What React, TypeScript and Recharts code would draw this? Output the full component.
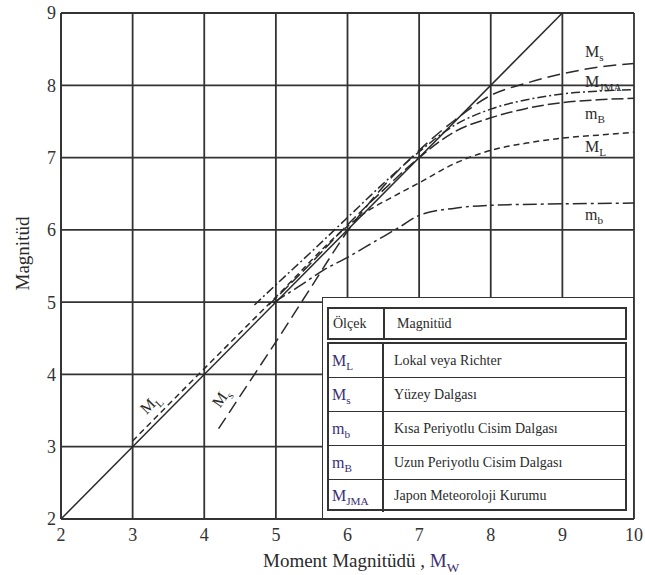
import React from 'react';
import { LineChart, Line, XAxis, YAxis, CartesianGrid } from 'recharts';

// values
const xTicks = [2, 3, 4, 5, 6, 7, 8, 9, 10];
const yTicks = [2, 3, 4, 5, 6, 7, 8, 9];

const mwX = [2, 9];
const mwY = [2, 9];

const msX = [4.2, 4.6, 5, 5.5, 6, 6.5, 7, 7.5, 8, 8.5, 9, 9.5, 10];
const msY = [3.25, 3.85, 4.45, 5.22, 5.98, 6.6, 7.1, 7.52, 7.86, 8.03, 8.16, 8.25, 8.3];

const jmaX = [4.7, 5, 5.5, 6, 6.5, 7, 7.5, 8, 8.5, 9, 9.5, 10];
const jmaY = [4.96, 5.24, 5.7, 6.17, 6.64, 7.08, 7.45, 7.67, 7.8, 7.88, 7.92, 7.94];

const mBX = [4.9, 5.5, 6, 6.5, 7, 7.5, 8, 8.5, 9, 9.5, 10];
const mBY = [4.96, 5.55, 6.07, 6.55, 7.0, 7.36, 7.55, 7.68, 7.76, 7.8, 7.82];

const mlX = [3, 4, 5, 6, 6.28, 6.6, 7, 7.5, 8, 8.5, 9, 9.5, 10];
const mlY = [3.08, 4.08, 5.07, 6.05, 6.26, 6.44, 6.65, 6.92, 7.1, 7.2, 7.27, 7.31, 7.35];

const mbX = [4.96, 5.31, 5.66, 6, 6.4, 6.73, 7, 7.5, 8, 9, 10];
const mbY = [4.99, 5.21, 5.44, 5.62, 5.85, 6.04, 6.2, 6.3, 6.34, 6.36, 6.37];

const legendRows = [
  { sym: 'M', sub: 'L', text: 'Lokal veya Richter' },
  { sym: 'M', sub: 's', text: 'Yüzey Dalgası' },
  { sym: 'm', sub: 'b', text: 'Kısa Periyotlu Cisim Dalgası' },
  { sym: 'm', sub: 'B', text: 'Uzun Periyotlu Cisim Dalgası' },
  { sym: 'M', sub: 'JMA', text: 'Japon Meteoroloji Kurumu' },
];

const toPoints = (xs: number[], ys: number[]) => xs.map((x, i) => ({ x, y: ys[i] }));

const serif = "'Liberation Serif', 'Times New Roman', Tinos, 'DejaVu Serif', serif";
const ink = '#2a2a2a';
const symColor = '#3a3070';

const Sym = ({ s, sub, size = 16, color = ink }: { s: string; sub: string; size?: number; color?: string }) => (
  <span style={{ fontFamily: serif, fontSize: size, color, whiteSpace: 'nowrap' }}>
    {s}
    <sub style={{ fontSize: size * 0.7, verticalAlign: 'sub', lineHeight: 0 }}>{sub}</sub>
  </span>
);

const abs = (left: number, top: number, extra: React.CSSProperties = {}): React.CSSProperties => ({
  position: 'absolute',
  left,
  top,
  lineHeight: 1,
  ...extra,
});

export default function App() {
  const series = [
    { name: 'Mw', data: toPoints(mwX, mwY), dash: undefined, type: 'linear' },
    { name: 'Ms', data: toPoints(msX, msY), dash: '13 6', type: 'monotone' },
    { name: 'MJMA', data: toPoints(jmaX, jmaY), dash: '9 3 2 3', type: 'monotone' },
    { name: 'mB', data: toPoints(mBX, mBY), dash: '12 4', type: 'monotone' },
    { name: 'ML', data: toPoints(mlX, mlY), dash: '6 4', type: 'monotone' },
    { name: 'mb', data: toPoints(mbX, mbY), dash: '14 4 3 4', type: 'monotone' },
  ];

  const tickStyle = { fill: '#333', fontSize: 18, fontFamily: serif };

  return (
    <div style={{ position: 'absolute', left: 0, top: 0, width: 645, height: 575, background: 'white', fontFamily: serif }}>
      <LineChart width={645} height={575} margin={{ top: 13, right: 11, left: 30, bottom: 0 }}>
        <CartesianGrid stroke="#333" strokeWidth={1.8} horizontalValues={yTicks} verticalValues={xTicks} />
        <XAxis
          type="number"
          dataKey="x"
          domain={[2, 10]}
          ticks={xTicks}
          allowDataOverflow
          height={56}
          tickLine={false}
          tickSize={0}
          tickMargin={9}
          tick={tickStyle}
          axisLine={{ stroke: '#333', strokeWidth: 1.8 }}
        />
        <YAxis
          type="number"
          dataKey="y"
          domain={[2, 9]}
          ticks={yTicks}
          allowDataOverflow
          width={31}
          tickLine={false}
          tickSize={0}
          tickMargin={5}
          tick={tickStyle}
          axisLine={{ stroke: '#333', strokeWidth: 1.8 }}
        />
        {series.map((s) => (
          <Line
            key={s.name}
            data={s.data}
            dataKey="y"
            type={s.type as 'linear' | 'monotone'}
            stroke={ink}
            strokeWidth={1.5}
            strokeDasharray={s.dash}
            dot={false}
            activeDot={false}
            isAnimationActive={false}
          />
        ))}
      </LineChart>

      {/* axis titles */}
      <div style={abs(263, 551, { fontFamily: serif, fontSize: 19, color: ink, whiteSpace: 'nowrap' })}>
        Moment Magnitüdü , <Sym s="M" sub="W" size={19} color={symColor} />
      </div>
      <div
        style={abs(-20, 244, {
          fontFamily: serif,
          fontSize: 19,
          color: ink,
          transform: 'rotate(-90deg)',
          width: 84,
          textAlign: 'center',
        })}
      >
        Magnitüd
      </div>

      {/* curve labels */}
      <div style={abs(585, 44)}><Sym s="M" sub="s" /></div>
      <div style={abs(585, 74)}><Sym s="M" sub="JMA" /></div>
      <div style={abs(585, 106)}><Sym s="m" sub="B" /></div>
      <div style={abs(585, 139)}><Sym s="M" sub="L" /></div>
      <div style={abs(585, 207)}><Sym s="m" sub="b" /></div>
      <div style={abs(140, 396, { transform: 'rotate(-45deg)' })}><Sym s="M" sub="L" /></div>
      <div style={abs(212, 390, { transform: 'rotate(-55deg)' })}><Sym s="M" sub="s" /></div>

      {/* legend table */}
      <div
        style={{
          position: 'absolute',
          left: 322,
          top: 297,
          width: 310,
          height: 220,
          background: 'white',
          border: '1.5px solid #333',
        }}
      >
        <div
          style={{
            position: 'absolute',
            left: 4,
            top: 9,
            width: 296,
            height: 29,
            border: '2px solid #333',
            display: 'flex',
            fontFamily: serif,
            fontSize: 14,
            color: ink,
          }}
        >
          <div style={{ width: 50, borderRight: '2px solid #333', display: 'flex', alignItems: 'center', paddingLeft: 4 }}>Ölçek</div>
          <div style={{ display: 'flex', alignItems: 'center', paddingLeft: 12 }}>Magnitüd</div>
        </div>
        <div
          style={{
            position: 'absolute',
            left: 4,
            top: 44,
            width: 296,
            height: 165,
            border: '2px solid #333',
            fontFamily: serif,
            fontSize: 14,
            color: ink,
          }}
        >
          {legendRows.map((r, i) => (
            <div
              key={r.text}
              style={{
                display: 'flex',
                height: i === legendRows.length - 1 ? 32 : 33,
                borderBottom: i === legendRows.length - 1 ? 'none' : '1.5px solid #333',
              }}
            >
              <div
                style={{
                  width: 50,
                  borderRight: '2px solid #333',
                  display: 'flex',
                  alignItems: 'center',
                  paddingLeft: 3,
                }}
              >
                <Sym s={r.sym} sub={r.sub} size={16} color={symColor} />
              </div>
              <div style={{ display: 'flex', alignItems: 'center', paddingLeft: 10 }}>{r.text}</div>
            </div>
          ))}
        </div>
      </div>
    </div>
  );
}
